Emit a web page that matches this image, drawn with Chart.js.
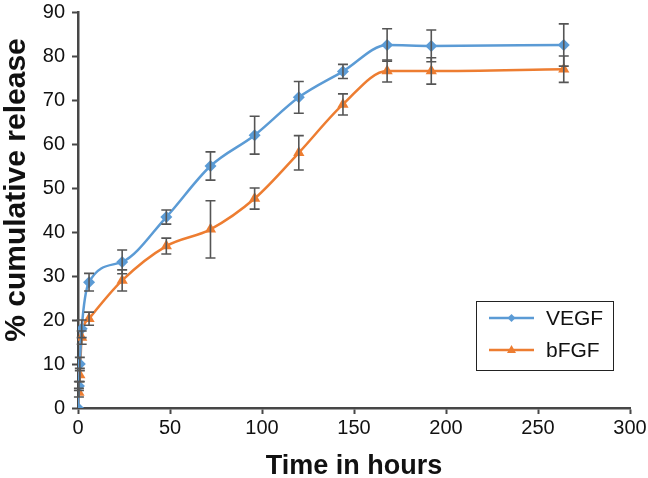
<!DOCTYPE html>
<html>
<head>
<meta charset="utf-8">
<script src="https://cdn.jsdelivr.net/npm/chart.js@4.4.1/dist/chart.umd.min.js"></script>
<style>
    body { margin: 0; background: #fff; }
    #wrap { width: 648px; height: 478px; }
</style>
</head>
<body>
<div id="wrap"><canvas id="releaseChart" width="648" height="478"></canvas></div>
<script>
// Data
const hours = [0, 0.5, 1, 2, 6, 24, 48, 72, 96, 120, 144, 168, 192, 264];
const vegf = [0, 5, 10, 18, 28.6, 33.2, 43.4, 55, 62, 70.6, 76.5, 82.5, 82.3, 82.5];
const vegfErr = [0, 1, 1.5, 2, 2, 2.7, 1.6, 3.2, 4.3, 3.6, 1.6, 3.7, 3.6, 4.8];
const bfgf = [0, 3.5, 7.5, 16, 20.3, 29, 36.8, 40.6, 47.6, 58, 69, 76.6, 76.6, 77];
const bfgfErr = [0, 1, 1.5, 1.5, 1.5, 2.4, 1.8, 6.5, 2.4, 3.9, 2.4, 2.5, 3, 3];
const xTicks = [0, 50, 100, 150, 200, 250, 300];
const yTicks = [0, 10, 20, 30, 40, 50, 60, 70, 80, 90];

const axisColor = '#474747';
const blue = '#5B9BD5';
const orange = '#ED7D31';
const fontFamily = '"Liberation Sans", Arial, sans-serif';

function toPoints(values) {
    return hours.map((h, i) => ({ x: h, y: values[i] }));
}

// Draw vertical error bars with caps
const errorBars = {
    id: 'errorBars',
    afterDatasetsDraw(chart) {
        const ctx = chart.ctx;
        const xs = chart.scales.x;
        const ys = chart.scales.y;
        ctx.save();
        ctx.strokeStyle = '#555555';
        ctx.lineWidth = 1.6;
        chart.data.datasets.forEach(ds => {
            ds.data.forEach((p, i) => {
                const e = ds.errors[i];
                if (!e) return;
                const x = xs.getPixelForValue(p.x);
                const top = ys.getPixelForValue(p.y + e);
                const bot = ys.getPixelForValue(p.y - e);
                ctx.beginPath();
                ctx.moveTo(x, top);
                ctx.lineTo(x, bot);
                ctx.moveTo(x - 5, top);
                ctx.lineTo(x + 5, top);
                ctx.moveTo(x - 5, bot);
                ctx.lineTo(x + 5, bot);
                ctx.stroke();
            });
        });
        ctx.restore();
    }
};

// Y axis title, sits a bit above the middle of the axis like the original
const yTitle = {
    id: 'yTitle',
    afterDraw(chart) {
        const ctx = chart.ctx;
        ctx.save();
        ctx.translate(17, 190);
        ctx.rotate(-Math.PI / 2);
        ctx.fillStyle = '#111';
        ctx.font = 'bold 30px ' + fontFamily;
        ctx.textAlign = 'center';
        ctx.textBaseline = 'middle';
        ctx.fillText('% cumulative release', 0, 0);
        ctx.restore();
    }
};

// Boxed legend inside the plot area
const boxLegend = {
    id: 'boxLegend',
    afterDraw(chart) {
        const ctx = chart.ctx;
        const left = 476, top = 301, w = 137, h = 69;
        ctx.save();
        ctx.fillStyle = '#fff';
        ctx.fillRect(left, top, w, h);
        ctx.strokeStyle = '#222';
        ctx.lineWidth = 1;
        ctx.strokeRect(left + 0.5, top + 0.5, w, h);
        chart.data.datasets.forEach((ds, i) => {
            const y = top + 17 + i * 32;
            ctx.strokeStyle = ds.borderColor;
            ctx.lineWidth = 2.5;
            ctx.beginPath();
            ctx.moveTo(489, y);
            ctx.lineTo(534, y);
            ctx.stroke();
            ctx.fillStyle = ds.borderColor;
            ctx.beginPath();
            if (ds.pointStyle === 'rectRot') {
                ctx.moveTo(511.5, y - 4);
                ctx.lineTo(515.5, y);
                ctx.lineTo(511.5, y + 4);
                ctx.lineTo(507.5, y);
            } else {
                ctx.moveTo(511.5, y - 5);
                ctx.lineTo(516, y + 3);
                ctx.lineTo(507, y + 3);
            }
            ctx.closePath();
            ctx.fill();
            ctx.fillStyle = '#111';
            ctx.font = '21px ' + fontFamily;
            ctx.textBaseline = 'middle';
            ctx.fillText(ds.label, 546, y + 1);
        });
        ctx.restore();
    }
};

const ctx = document.getElementById('releaseChart').getContext('2d');
new Chart(ctx, {
    type: 'line',
    data: {
        datasets: [{
            label: 'VEGF',
            data: toPoints(vegf),
            errors: vegfErr,
            borderColor: blue,
            backgroundColor: blue,
            borderWidth: 2.5,
            pointStyle: 'rectRot',
            pointRadius: 6,
            pointBorderWidth: 0,
            cubicInterpolationMode: 'monotone'
        }, {
            label: 'bFGF',
            data: toPoints(bfgf),
            errors: bfgfErr,
            borderColor: orange,
            backgroundColor: orange,
            borderWidth: 2.5,
            pointStyle: 'triangle',
            pointRadius: 6.5,
            pointBorderWidth: 0,
            cubicInterpolationMode: 'monotone'
        }]
    },
    options: {
        responsive: false,
        animation: false,
        layout: { padding: { top: 12, right: 18, left: 0, bottom: 0 } },
        plugins: {
            legend: { display: false },
            tooltip: { enabled: false }
        },
        scales: {
            x: {
                type: 'linear',
                min: 0,
                max: 300,
                afterBuildTicks: s => { s.ticks = xTicks.map(v => ({ value: v })); },
                afterFit: s => { s.height = 70; s.paddingRight = 0; s.paddingLeft = 0; },
                border: { color: axisColor, width: 2.5 },
                grid: { drawOnChartArea: false, tickLength: 6, tickWidth: 2, color: axisColor },
                ticks: {
                    color: '#111',
                    padding: 2,
                    maxRotation: 0,
                    font: { family: fontFamily, size: 20 }
                },
                title: {
                    display: true,
                    text: 'Time in hours',
                    color: '#111',
                    padding: { top: 0, bottom: -2 },
                    font: { family: fontFamily, size: 27, weight: 'bold', lineHeight: 1 }
                }
            },
            y: {
                min: 0,
                max: 90,
                afterBuildTicks: s => { s.ticks = yTicks.map(v => ({ value: v })); },
                afterFit: s => { s.width = 78; s.paddingTop = 0; s.paddingBottom = 0; },
                border: { color: axisColor, width: 2.5 },
                grid: { drawOnChartArea: false, tickLength: 6, tickWidth: 2, color: axisColor },
                ticks: {
                    color: '#111',
                    padding: 7,
                    font: { family: fontFamily, size: 20 }
                }
            }
        }
    },
    plugins: [errorBars, yTitle, boxLegend]
});
</script>
</body>
</html>
